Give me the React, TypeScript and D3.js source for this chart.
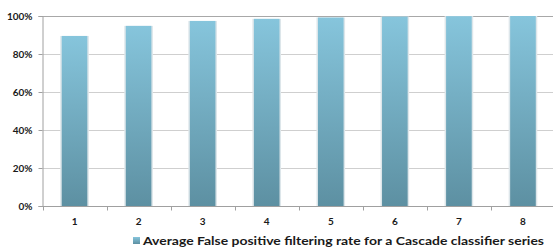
import React, { useEffect, useRef } from 'react';
import * as d3 from 'd3';

const categories = ['1', '2', '3', '4', '5', '6', '7', '8'];
const rates = [89.5, 94.8, 97.4, 98.5, 99.2, 99.7, 99.9, 100];
const yTicks = [0, 20, 40, 60, 80, 100];
const seriesName = 'Average False positive filtering rate for a Cascade classifier series';

const App = () => {
  const ref = useRef<SVGSVGElement>(null);

  useEffect(() => {
    const svg = d3.select(ref.current);
    svg.selectAll('*').remove();

    const width = 553, height = 250;
    const margin = { top: 16, right: -2, bottom: 44, left: 42.5 };
    const font = 'Lato, "Open Sans", sans-serif';

    // gradient for the bars
    const defs = svg.append('defs');
    const grad = defs.append('linearGradient')
      .attr('id', 'barGrad')
      .attr('x1', 0).attr('y1', 0).attr('x2', 0).attr('y2', 1);
    grad.append('stop').attr('offset', '0%').attr('stop-color', '#86c5dc');
    grad.append('stop').attr('offset', '100%').attr('stop-color', '#5d90a2');

    const x = d3.scaleBand()
      .domain(categories)
      .range([margin.left, width - margin.right])
      .paddingInner(0.6)
      .paddingOuter(0.3);

    const y = d3.scaleLinear()
      .domain([0, 100])
      .range([height - margin.bottom, margin.top]);

    // gridlines
    svg.append('g')
      .selectAll('line')
      .data(yTicks.filter(t => t > 0))
      .join('line')
      .attr('x1', margin.left)
      .attr('x2', width)
      .attr('y1', d => Math.round(y(d)) + 0.5)
      .attr('y2', d => Math.round(y(d)) + 0.5)
      .attr('stroke', d => (d === 100 ? '#a8a8a8' : '#cfcfcf'))
      .attr('stroke-width', 1);

    // bar shadows
    svg.append('g')
      .selectAll('rect')
      .data(rates)
      .join('rect')
      .attr('x', (d, i) => x(categories[i])! - 1.5)
      .attr('y', d => y(d))
      .attr('width', x.bandwidth() + 3)
      .attr('height', d => y(0) - y(d))
      .attr('fill', '#dde6ea');

    // bars
    svg.append('g')
      .selectAll('rect')
      .data(rates)
      .join('rect')
      .attr('x', (d, i) => x(categories[i])!)
      .attr('y', d => y(d))
      .attr('width', x.bandwidth())
      .attr('height', d => y(0) - y(d))
      .attr('fill', 'url(#barGrad)');

    // y axis
    const yAxis = svg.append('g')
      .attr('transform', `translate(${margin.left},0)`)
      .call(d3.axisLeft(y).tickValues(yTicks).tickFormat(d => `${d}%`).tickSize(4).tickPadding(6));
    yAxis.select('.domain').attr('stroke', '#a0a0a0');
    yAxis.selectAll('.tick line').attr('stroke', '#a0a0a0');
    yAxis.selectAll('text')
      .attr('font-family', font)
      .attr('font-size', 10)
      .attr('font-weight', 'bold')
      .attr('fill', '#1a1a1a');

    // x axis
    const step = x.step();
    const xAxis = svg.append('g')
      .attr('transform', `translate(0,${Math.round(y(0)) + 0.5})`);
    xAxis.append('line')
      .attr('x1', margin.left).attr('x2', width)
      .attr('stroke', '#a0a0a0');
    xAxis.selectAll('line.tk')
      .data(d3.range(categories.length + 1))
      .join('line')
      .attr('class', 'tk')
      .attr('x1', i => Math.round(margin.left + i * step) + 0.5)
      .attr('x2', i => Math.round(margin.left + i * step) + 0.5)
      .attr('y1', 0).attr('y2', 4)
      .attr('stroke', '#a0a0a0');
    xAxis.selectAll('text')
      .data(categories)
      .join('text')
      .attr('x', d => x(d)! + x.bandwidth() / 2)
      .attr('y', 18)
      .attr('text-anchor', 'middle')
      .attr('font-family', font)
      .attr('font-size', 10)
      .attr('font-weight', 'bold')
      .attr('fill', '#1a1a1a')
      .text(d => d);

    // legend
    const legend = svg.append('g').attr('transform', 'translate(133,237)');
    legend.append('rect')
      .attr('width', 7).attr('height', 7)
      .attr('fill', 'url(#barGrad)');
    legend.append('text')
      .attr('x', 10)
      .attr('y', 8)
      .attr('font-family', font)
      .attr('font-size', 12)
      .attr('font-weight', 'bold')
      .attr('fill', '#1a1a1a')
      .attr('textLength', 401)
      .attr('lengthAdjust', 'spacingAndGlyphs')
      .text(seriesName);
  }, []);

  return (
    <svg ref={ref} width={553} height={250}
      style={{ position: 'absolute', left: 0, top: 0, background: '#fff' }} />
  );
};

export default App;
